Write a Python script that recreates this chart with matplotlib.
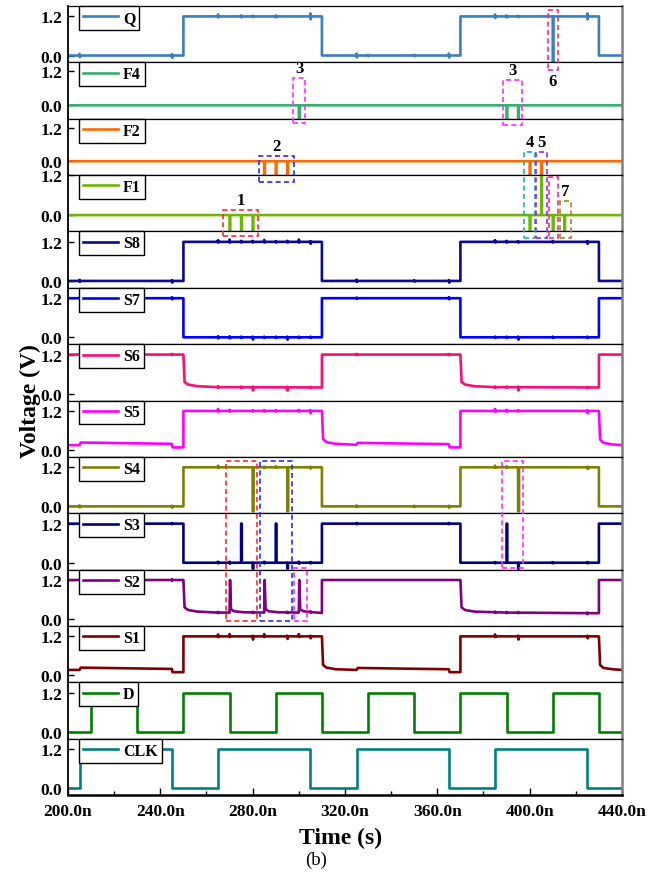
import numpy as np
import matplotlib
matplotlib.use("Agg")
import matplotlib.pyplot as plt
from matplotlib import transforms
from matplotlib.patches import Rectangle
from matplotlib.ticker import MultipleLocator, FuncFormatter

plt.rcParams['font.family'] = ['Liberation Serif', 'DejaVu Serif']
plt.rcParams['mathtext.default'] = 'regular'

# panels, top to bottom
names = ['Q', 'F4', 'F2', 'F1', 'S8', 'S7', 'S6', 'S5', 'S4', 'S3', 'S2', 'S1', 'D', 'CLK']
colors = ['#3b7fc0', '#3aae6e', '#ff6a00', '#6cb800', '#0a0a96', '#0000ff', '#ff0a78',
          '#ff00ff', '#808000', '#000080', '#800080', '#800000', '#008000', '#008080']

# time axis (ns)
t_start, t_stop = 200, 440
hi = 1.2

# transition times of the square-like signals
q_edges = [250, 310, 370, 430]
d_edges = [210, 230, 250, 270, 290, 310, 330, 350, 370, 390, 410, 430]
clk_edges = [205, 245, 265, 305, 325, 365, 385, 425]

# explicit breakpoints for traces with a weak low level
s6_t = [200, 250, 250.5, 252, 256, 265, 310, 310, 370, 370.5, 372, 376, 385, 430, 430, 440]
s6_v = [1.2, 1.2, 0.36, 0.28, 0.23, 0.2, 0.19, 1.2, 1.2, 0.36, 0.28, 0.23, 0.2, 0.19, 1.2, 1.2]

s5_t = [200, 205, 205.5, 245, 245.3, 250, 250, 310, 310.5, 312, 316, 325, 325.5, 365, 365.3,
        370, 370, 430, 430.5, 432, 436, 440]
s5_v = [0.15, 0.15, 0.23, 0.19, 0.08, 0.08, 1.2, 1.2, 0.34, 0.24, 0.19, 0.16, 0.22, 0.18, 0.08,
        0.08, 1.2, 1.2, 0.32, 0.22, 0.17, 0.15]

s2_t = [200, 250, 250.5, 252, 256, 265, 270, 270.2, 270.6, 272, 276, 285, 285.2, 285.6, 287, 291,
        300, 300.2, 300.6, 302, 306, 310, 310, 370, 370.5, 372, 376, 390, 430, 430, 440]
s2_v = [1.2, 1.2, 0.36, 0.28, 0.23, 0.2, 0.2, 1.2, 0.3, 0.24, 0.21, 0.2, 1.2, 0.3, 0.24, 0.21,
        0.2, 1.2, 0.3, 0.24, 0.21, 0.19, 1.2, 1.2, 0.36, 0.28, 0.23, 0.2, 0.18, 1.2, 1.2]

s1_t = [200, 205, 205.5, 245, 245.3, 250, 250, 310, 310.5, 312, 316, 325, 325.5, 365, 365.3,
        370, 370, 430, 430.5, 432, 436, 440]
s1_v = [0.17, 0.17, 0.24, 0.2, 0.1, 0.1, 1.2, 1.2, 0.32, 0.24, 0.19, 0.17, 0.23, 0.19, 0.1,
        0.1, 1.2, 1.2, 0.32, 0.23, 0.19, 0.17]

# small blips at clock/data edges: (time, up, down)
q_blips = [(205, .05, .05), (245, .04, .07), (265, .06, .03), (275, .03, .03), (280, .02, .02),
           (290, .03, .03), (305, .09, .09), (325, .06, .06), (330, .02, .02), (350, .02, .02),
           (365, .06, .06), (385, .06, .05), (390, .03, .03), (395, .02, .02), (425, .09, .09)]
s8_blips = [(205, .03, .03), (245, .02, .05), (265, .05, .02), (270, .07, .02), (275, .03, .02),
            (280, .03, .02), (285, .06, .02), (290, .02, .02), (295, .03, .02), (300, .07, .02),
            (305, .02, .06), (325, .04, .03), (350, .02, .02), (365, .02, .05), (385, .05, .02),
            (390, .03, .02), (395, .02, .02), (410, .02, .02), (425, .02, .06)]
s7_blips = [(205, .02, .02), (245, .03, .03), (265, .03, .03), (270, .03, .03), (275, .02, .02),
            (280, .02, .07), (285, .02, .02), (290, .02, .02), (295, .02, .07), (300, .02, .02),
            (305, .02, .02), (325, .02, .02), (365, .03, .03), (385, .02, .02), (390, .02, .02),
            (395, .02, .07), (410, .02, .02), (425, .02, .02)]
s6_blips = [(245, .02, .02), (265, .03, .02), (275, .02, .02), (280, .02, .1), (295, .02, .1),
            (305, .02, .02), (325, .02, .02), (365, .02, .02), (385, .02, .02), (390, .02, .02),
            (395, .02, .1), (425, .02, .02)]
s5_blips = [(265, .06, .02), (270, .03, .02), (280, .02, .02), (285, .02, .02), (290, .02, .02),
            (300, .03, .02), (305, .02, .07), (385, .06, .02), (390, .03, .02), (395, .02, .02),
            (425, .02, .07)]
s4_blips = [(205, .03, .03), (245, .02, .04), (265, .05, .02), (285, .02, .02), (290, .03, .02),
            (305, .02, .04), (325, .03, .02), (350, .02, .02), (365, .02, .04), (385, .05, .02),
            (390, .03, .02), (425, .02, .05)]
s3_blips = [(245, .02, .02), (265, .03, .02), (270, .03, .03), (285, .03, .02), (300, .03, .03),
            (305, .02, .02), (325, .02, .02), (365, .02, .02), (385, .02, .02), (410, .02, .02),
            (425, .02, .02)]
s2_blips = [(245, .02, .02), (265, .02, .02), (280, .02, .02), (295, .02, .02), (305, .02, .02),
            (385, .02, .02), (390, .02, .02), (395, .02, .02), (425, .02, .03)]
s1_blips = [(265, .06, .02), (270, .07, .02), (280, .02, .1), (285, .07, .02), (295, .02, .08),
            (300, .07, .02), (305, .02, .06), (385, .06, .02), (395, .02, .1), (425, .02, .06)]

# narrow pulses: (time, level, width ns)
q_pulses = [(410, -0.3, 0.3)]
f4_pulses = [(300, -1.0, 0.3), (390, -1.0, 0.3), (395, -1.0, 0.3)]
f2_pulses = [(285, -1.0, 0.3), (290, -1.0, 0.3), (295, -1.0, 0.3), (400, -1.0, 0.3), (405, -1.0, 0.3)]
f1_pulses = [(270, -1.0, 0.3), (275, -1.0, 0.3), (280, -1.0, 0.3), (400, -1.0, 0.3),
             (405, 1.3, 0.3), (410, -1.0, 0.3), (415, -1.0, 0.3)]
s4_pulses = [(280, -0.15, 0.4), (295, -0.15, 0.4), (395, -0.15, 0.4)]
s3_pulses = [(275, 1.2, 0.3), (290, 1.2, 0.3), (390, 1.2, 0.3),
             (280, -0.18, 0.3), (295, -0.18, 0.3), (395, -0.18, 0.3)]


def square(edges, start_high):
    level = hi if start_high else 0.0
    t, v = [t_start], [level]
    for e in edges:
        nxt = 0.0 if level else hi
        t += [e, e]
        v += [level, nxt]
        level = nxt
    t.append(t_stop)
    v.append(level)
    return t, v


def build(t, v, blips=(), pulses=()):
    bt, bv = np.array(t, float), np.array(v, float)
    pts = list(zip(t, v))
    for tc, up, dn in blips:
        b = np.interp(tc, bt, bv)
        pts += [(tc - 0.15, b), (tc, b + up), (tc + 0.15, b - dn), (tc + 0.3, b)]
    for tc, lvl, w in pulses:
        b = np.interp(tc, bt, bv)
        pts += [(tc - 0.01, b), (tc, lvl), (tc + w, lvl), (tc + w + 0.01, b)]
    pts.sort(key=lambda p: p[0])
    return [p[0] for p in pts], [p[1] for p in pts]


flat = ([t_start, t_stop], [0.0, 0.0])
traces = {
    'Q': build(*square(q_edges, False), q_blips, q_pulses),
    'F4': build(*flat, pulses=f4_pulses),
    'F2': build(*flat, pulses=f2_pulses),
    'F1': build(*flat, pulses=f1_pulses),
    'S8': build(*square(q_edges, False), s8_blips),
    'S7': build(*square(q_edges, True), s7_blips),
    'S6': build(s6_t, s6_v, s6_blips),
    'S5': build(s5_t, s5_v, s5_blips),
    'S4': build(*square(q_edges, False), s4_blips, s4_pulses),
    'S3': build(*square(q_edges, True), s3_blips, s3_pulses),
    'S2': build(s2_t, s2_v, s2_blips),
    'S1': build(s1_t, s1_v, s1_blips),
    'D': build(*square(d_edges, False)),
    'CLK': build(*square(clk_edges, False)),
}
ylims = {'F4': (-0.47, 1.51), 'F2': (-0.5, 1.53), 'F1': (-0.49, 1.2)}

W, H = 667, 878
fig, axes = plt.subplots(len(names), 1, sharex=True, figsize=(W / 100, H / 100), dpi=100,
                         gridspec_kw=dict(hspace=0))
fig.subplots_adjust(left=68 / W, right=622 / W, top=1 - 7 / H, bottom=1 - 796 / H)

for ax, name, c in zip(axes, names, colors):
    t, v = traces[name]
    ax.plot(t, v, color=c, lw=1.9, label=name)
    ax.set_ylim(*ylims.get(name, (-0.21, 1.52)))
    ax.set_xlim(t_start, t_stop)
    ax.set_yticks([0, hi])
    ax.yaxis.set_major_formatter(FuncFormatter(lambda y, p: f"{y:.1f}"))
    ax.tick_params(axis='y', direction='in', length=4, width=1, pad=4, labelsize=12.5)
    for lab in ax.get_yticklabels():
        lab.set_fontweight('bold')
    ax.tick_params(axis='x', which='both', length=0)
    for s in ['top', 'bottom']:
        ax.spines[s].set_linewidth(0.9)
    ax.spines['left'].set_linewidth(1.3)
    ax.spines['right'].set_color('#808080')
    ax.spines['right'].set_linewidth(1.8)
    leg = ax.legend(loc='upper left', bbox_to_anchor=(0.02, 1.0), borderaxespad=0,
                    fancybox=False, framealpha=1, edgecolor='black', handlelength=2.2,
                    handletextpad=0.3, borderpad=0.25, prop=dict(weight='bold', size=11.5))
    leg.get_frame().set_linewidth(1.0)

bot = axes[-1]
bot.xaxis.set_major_locator(MultipleLocator(40))
bot.xaxis.set_minor_locator(MultipleLocator(20))
bot.xaxis.set_major_formatter(FuncFormatter(lambda x, p: f"{x:.1f}n"))
bot.tick_params(axis='x', which='major', direction='in', length=5, width=1, pad=6, labelsize=12.5)
bot.tick_params(axis='x', which='minor', direction='in', length=3, width=1)
for lab in bot.get_xticklabels():
    lab.set_fontweight('bold')
bot.spines['bottom'].set_linewidth(1.8)

fig.text(341 / W, 1 - 838 / H, 'Time (s)', ha='center', va='center', fontsize=17, fontweight='bold')
fig.text(30 / W, 0.5 * (1 - 7 / H + 1 - 796 / H), 'Voltage (V)', ha='center', va='center',
         rotation=90, fontsize=17, fontweight='bold')
fig.text(316 / W, 1 - 860 / H, '(b)', ha='center', va='center', fontsize=13.5)

# dashed highlight boxes: (label, t0, t1, top px, bottom px, color, label below?)
boxes = [
    ('1', 267.2, 282.3, 211, 237, '#ff2a2a', False),
    ('2', 282.8, 297.9, 157, 183, '#2a2aff', False),
    ('3', 297.5, 302.7, 79, 124, '#ff2aff', False),
    ('3', 388.5, 396.7, 81, 126, '#ff2aff', False),
    ('6', 407.8, 412.3, 11, 71, '#ff2a8a', True),
    ('4', 397.6, 402.3, 153, 239, '#2aa8a8', False),
    ('5', 402.8, 407.5, 153, 239, '#8a2aff', False),
    ('', 408.4, 412.2, 178, 239, '#ff2a8a', False),
    ('7', 413.2, 418.0, 202, 239, '#a8842a', False),
    ('', 268.5, 281.9, 462, 622, '#ff2a2a', False),
    ('', 283.2, 296.9, 462, 622, '#2a2aff', False),
    ('', 298.0, 303.4, 569, 622, '#ff2aff', False),
    ('', 387.9, 397.0, 462, 569, '#ff2aff', False),
]
tr = transforms.blended_transform_factory(bot.transData, fig.transFigure)
for lab, t0, t1, ytop, ybot, c, below in boxes:
    y0, y1 = 1 - ybot / H, 1 - ytop / H
    fig.patches.append(Rectangle((t0, y0), t1 - t0, y1 - y0, transform=tr, fill=False,
                                 edgecolor=c, lw=1.2, linestyle=(0, (3, 2)), zorder=10))
    if lab:
        if below:
            fig.text((t0 + t1) / 2, y0 - 3 / H, lab, transform=tr, ha='center', va='top',
                     fontsize=12, fontweight='bold')
        else:
            fig.text((t0 + t1) / 2, y1 + 2 / H, lab, transform=tr, ha='center', va='bottom',
                     fontsize=12, fontweight='bold')

fig.savefig('out.png', dpi=100)
